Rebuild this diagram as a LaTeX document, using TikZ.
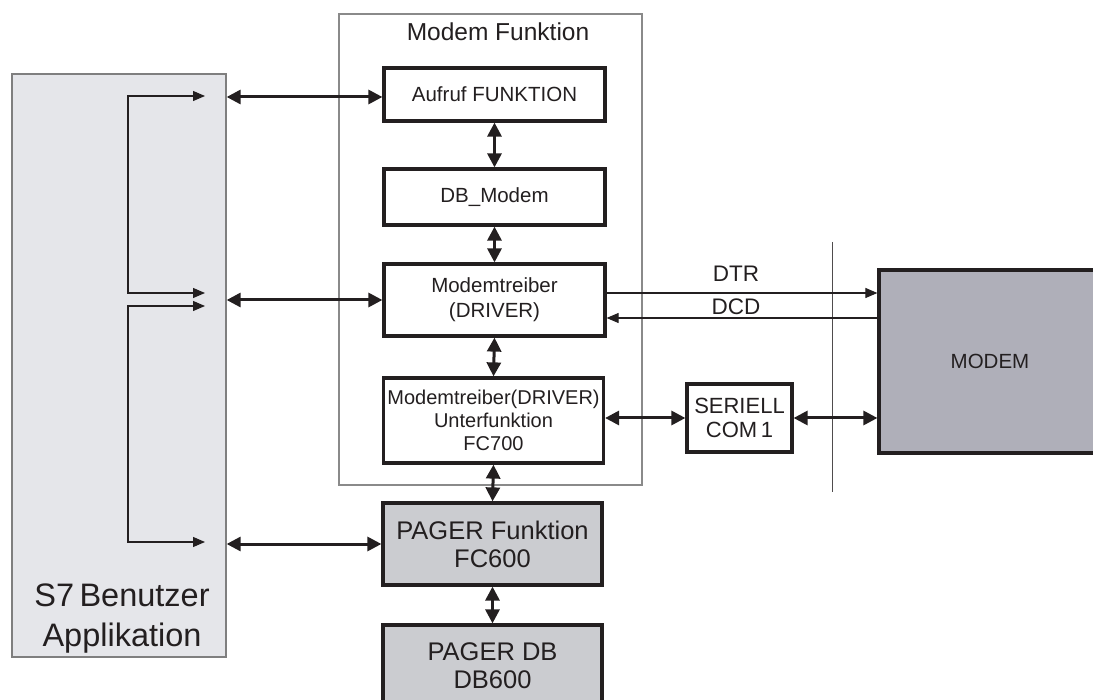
\documentclass[tikz,border=0pt]{standalone}
\usepackage{fontspec}
\setmainfont{Liberation Sans}
\usetikzlibrary{arrows.meta}
\definecolor{ink}{HTML}{231F20}
\definecolor{appfill}{HTML}{E5E6EA}
\definecolor{appdraw}{HTML}{7F7F7F}
\definecolor{framec}{HTML}{8A8A8A}
\definecolor{pagerfill}{HTML}{CBCCD0}
\definecolor{modemfill}{HTML}{AFAFB9}
\newcommand{\fs}[2]{\fontsize{#1}{#2}\selectfont}
\tikzset{
  box/.style={draw=ink, line width=3.2pt, fill=white, text=ink, inner sep=0pt, align=center},
  dbl/.style={draw=ink, line width=3pt, {Triangle[length=14pt,width=14pt]}-{Triangle[length=14pt,width=14pt]}},
  tarr/.style={draw=ink, line width=1.1pt, -{Triangle[length=12pt,width=10pt]}},
  tboth/.style={draw=ink, line width=1.1pt, {Triangle[length=12pt,width=10pt]}-{Triangle[length=12pt,width=10pt]}},
  thinline/.style={draw=ink!80, line width=1pt},
  lbl/.style={text=ink, inner sep=0pt, align=center}
}
\begin{document}
\begin{tikzpicture}[x=1pt,y=-1pt]
\useasboundingbox (0,0) rectangle (1093,700);
% Modem Funktion frame
\node[draw=framec, line width=1.1pt, minimum width=303pt, minimum height=471pt, inner sep=0pt] (frame) at (490.5,249.5) {};
\node[lbl, font=\fs{24.5}{28}] (ftitle) at (498,32) {Modem Funktion};
% application box
\node[draw=appdraw, fill=appfill, line width=1.3pt, minimum width=214pt, minimum height=583pt, inner sep=0pt] (app) at (119,365.5) {};
\node[lbl, font=\fs{32.5}{40}] (applabel) at (122,619) {S7\,Benutzer\\Applikation};
% inner boxes
\node[box, minimum width=221pt, minimum height=53pt, font=\fs{20.5}{25}] (aufruf) at (494.5,94.5) {Aufruf FUNKTION};
\node[box, minimum width=221pt, minimum height=56pt, font=\fs{20.5}{25}] (db) at (494.5,197) {DB\_Modem};
\node[box, minimum width=221pt, minimum height=72pt, font=\fs{20.5}{25}] (mt) at (494.5,300) {Modemtreiber\\(DRIVER)};
\node[box, minimum width=220pt, minimum height=85pt, font=\fs{20}{23}] (sub) at (493.5,420.5) {Modemtreiber(DRIVER)\\Unterfunktion\\FC700};
\node[box, fill=pagerfill, minimum width=219pt, minimum height=82pt, font=\fs{25.5}{28}] (pf) at (492.5,544) {PAGER Funktion\\FC600};
\node[box, fill=pagerfill, minimum width=219pt, minimum height=82pt, font=\fs{25.5}{28}] (pdb) at (492.5,666) {PAGER DB\\DB600};
\node[box, minimum width=105pt, minimum height=68pt, font=\fs{22}{24}] (ser) at (739.5,418) {SERIELL\\COM\,1};
\node[box, fill=modemfill, minimum width=222pt, minimum height=183pt, font=\fs{20.5}{25}] (modem) at (990,361.5) {MODEM};
% vertical divider
\coordinate (vtop) at (832,242);
\coordinate (vbot) at (832,492);
\draw[thinline] (vtop) -- (vbot);
% left double arrows
\coordinate (aw) at ([yshift=-2.5pt]aufruf.west);
\draw[dbl] (app.east |- aw) -- (aw);
\draw[dbl] (app.east |- mt.west) -- (mt.west);
\draw[dbl] (app.east |- pf.west) -- (pf.west);
% vertical double arrows
\draw[dbl] (aufruf.south) -- (db.north);
\draw[dbl] (db.south) -- (mt.north);
\draw[dbl] (mt.south) -- (sub.north);
\draw[dbl] (sub.south) -- (pf.north);
\draw[dbl] (pf.south) -- (pdb.north);
% serial
\draw[dbl] (sub.east |- ser.west) -- (ser.west);
\draw[dbl] (ser.east) -- (ser.east -| modem.west);
% DTR / DCD
\draw[tarr] ([yshift=7pt]mt.east) -- ([yshift=7pt]mt.east -| modem.west);
\draw[tarr] ([yshift=-18pt]mt.east -| modem.west) -- ([yshift=-18pt]mt.east);
\node[lbl, font=\fs{22.5}{25}] (dtr) at (736,274) {DTR};
\node[lbl, font=\fs{22.5}{25}] (dcd) at (736,307) {DCD};
% internal brackets in application box
\coordinate (ta) at (205,96);
\coordinate (tb) at (205,293);
\coordinate (tc) at (205,306);
\coordinate (td) at (205,542);
\draw[tboth] (ta) -- ++(-77,0) |- (tb);
\draw[tboth] (tc) -- ++(-77,0) |- (td);
\end{tikzpicture}
\end{document}
